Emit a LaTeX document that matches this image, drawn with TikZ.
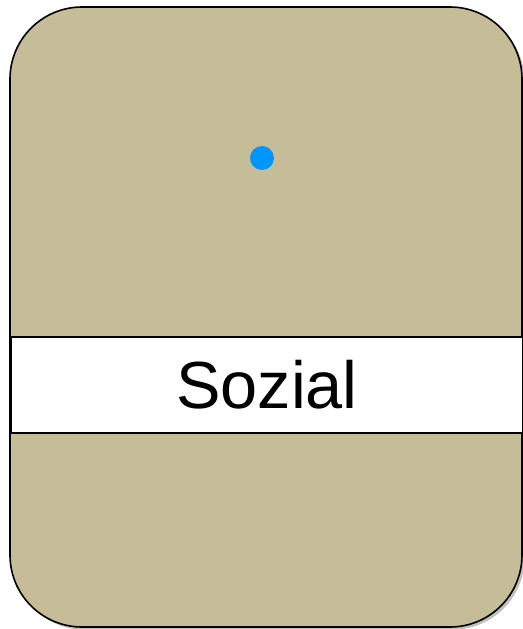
\documentclass[tikz,border=0pt]{standalone}
\usepackage{fontspec}
\setmainfont{Liberation Sans}
\usetikzlibrary{shadows}
\definecolor{cardtan}{RGB}{196,189,151}
\definecolor{dotblue}{RGB}{0,150,255}
\begin{document}
\begin{tikzpicture}[x=0.75pt,y=-0.75pt]
\tikzstyle{card}=[draw,line width=1.2pt,rectangle,rounded corners=54pt,fill=cardtan,minimum width=384pt,minimum height=465pt,inner sep=0pt,
  drop shadow={shadow xshift=2pt,shadow yshift=-2pt,opacity=0.25,fill=black}]
\tikzstyle{band}=[draw,line width=1.2pt,rectangle,fill=white,minimum width=384pt,minimum height=72pt,inner sep=0pt,font=\fontsize{50}{60}\selectfont]
\tikzstyle{pin}=[circle,fill=dotblue,minimum size=18pt,inner sep=0pt]
\useasboundingbox (0,0) rectangle (522,629);
\node[card] (C) at (266,317) {};
\node[band] (S) at (267,385) {Sozial};
\node[pin] (P) at (262,158) {};
\end{tikzpicture}
\end{document}
